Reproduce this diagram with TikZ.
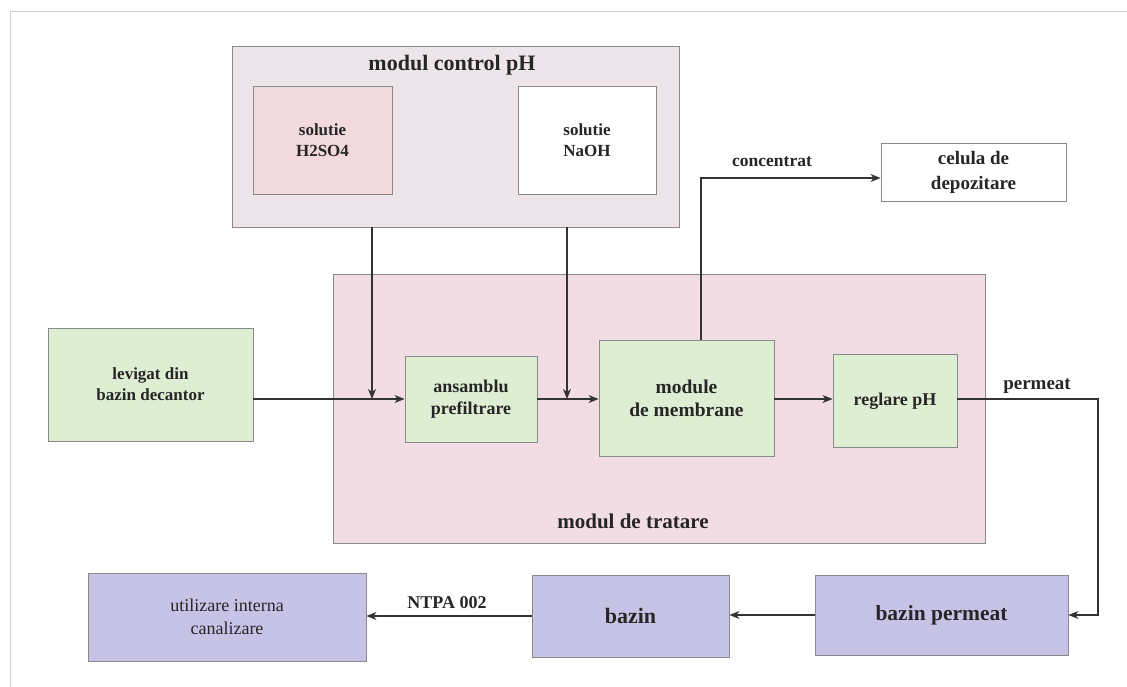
\documentclass[tikz,border=0pt]{standalone}
\usepackage{fontspec}
\setmainfont{Liberation Serif}
\usetikzlibrary{arrows.meta,calc}
\definecolor{frameline}{HTML}{D0D0D0}
\definecolor{boxline}{HTML}{8A8A8A}
\definecolor{ctrlfill}{HTML}{EEE5EB}
\definecolor{acidfill}{HTML}{F1D9DE}
\definecolor{tratfill}{HTML}{F3DDE4}
\definecolor{greenfill}{HTML}{DEEED3}
\definecolor{violetfill}{HTML}{C6C3E7}
\definecolor{flowline}{HTML}{333333}
\tikzset{
  block/.style={draw=boxline, line width=0.9pt, align=center, inner sep=2pt,
    text=black!85, font=\bfseries\fontsize{17}{21}\selectfont},
  greenbox/.style={block, fill=greenfill},
  violetbox/.style={block, fill=violetfill},
  module/.style={draw=boxline, line width=0.9pt},
  title/.style={font=\bfseries\fontsize{21}{25}\selectfont, text=black!85},
  flowlabel/.style={font=\bfseries\fontsize{17}{20}\selectfont, text=black!85},
  flow/.style={draw=flowline, line width=1.1pt,
    -{Stealth[length=10pt,width=8pt,inset=3pt]}},
  plain/.style={draw=flowline, line width=1.1pt}
}
\begin{document}
\begin{tikzpicture}[x=1pt,y=-1pt]
  \useasboundingbox (0,0) rectangle (1127,687);
  % page frame
  \draw[frameline, line width=0.8pt] (10,687) -- (10,11) -- (1127,11);

  % pH control module with its two reagent tanks
  \node[module, fill=ctrlfill, minimum width=447pt, minimum height=181pt]
    (ctrl) at (455.5,136.5) {};
  \node[title, font=\bfseries\fontsize{22}{25}\selectfont]
    (ctrltitle) at (452,65) {modul control pH};
  \node[block, fill=acidfill, minimum width=139pt, minimum height=108pt]
    (acid) at (322.5,140) {solutie\\H2SO4};
  \node[block, fill=white, minimum width=138pt, minimum height=108pt]
    (base) at (587,140) {solutie\\NaOH};

  % storage cell
  \node[block, fill=white, minimum width=185pt, minimum height=58pt,
    font=\bfseries\fontsize{19}{25}\selectfont]
    (cell) at (973.5,172) {celula de\\depozitare};

  % treatment module
  \node[module, fill=tratfill, minimum width=652pt, minimum height=269pt]
    (trat) at (659,408.5) {};
  \node[title] (trattitle) at (633,521) {modul de tratare};

  \node[greenbox, minimum width=205pt, minimum height=113pt]
    (levigat) at (150.5,384.5) {levigat din\\bazin decantor};
  \node[greenbox, minimum width=132pt, minimum height=86pt,
    font=\bfseries\fontsize{18}{22}\selectfont]
    (pref) at (471,399) {ansamblu\\prefiltrare};
  \node[greenbox, minimum width=175pt, minimum height=116pt,
    font=\bfseries\fontsize{19.5}{23}\selectfont]
    (memb) at (686.5,398) {module\\de membrane};
  \node[greenbox, minimum width=124pt, minimum height=93pt,
    font=\bfseries\fontsize{18}{20}\selectfont]
    (regl) at (895,401) {reglare pH};

  % basins and final use
  \node[violetbox, minimum width=253pt, minimum height=80pt,
    font=\bfseries\fontsize{21.5}{25}\selectfont]
    (bperm) at (941.5,615) {bazin permeat};
  \node[violetbox, minimum width=197pt, minimum height=82pt,
    font=\bfseries\fontsize{22}{25}\selectfont]
    (bazin) at (630.5,616) {bazin};
  \node[violetbox, minimum width=278pt, minimum height=88pt,
    font=\fontsize{18}{23}\selectfont]
    (use) at (227,617) {utilizare interna\\canalizare};

  % junction points on the main line
  \coordinate (jacid) at (372,399);
  \coordinate (jbase) at (567,399);
  \coordinate (kconc) at (701,178);
  \coordinate (kperm) at (1098,399);

  % main treatment line
  \draw[flow] (levigat.east |- pref.west) -- (pref.west);
  \draw[flow] (ctrl.south -| jacid) -- (jacid);
  \draw[flow] (ctrl.south -| jbase) -- (jbase);
  \draw[flow] (pref.east) -- (memb.west |- pref.east);
  \draw[flow] (memb.east |- pref.east) -- (regl.west |- pref.east);

  % concentrate to storage
  \draw[flow] (memb.north -| kconc) -- (kconc) -- (kconc -| cell.west);
  \node[flowlabel, font=\bfseries\fontsize{17.5}{20}\selectfont]
    (lconc) at (772,162) {concentrat};

  % permeate to basins
  \draw[flow] (regl.east |- kperm) -- (kperm) |- (bperm.east);
  \node[flowlabel, font=\bfseries\fontsize{19}{20}\selectfont]
    (lperm) at (1037,386) {permeat};
  \draw[flow] (bperm.west) -- (bazin.east |- bperm.west);
  \draw[flow] (bazin.west) -- (use.east |- bazin.west);
  \node[flowlabel, font=\bfseries\fontsize{18}{20}\selectfont]
    (lntpa) at (447,603) {NTPA 002};
\end{tikzpicture}
\end{document}
